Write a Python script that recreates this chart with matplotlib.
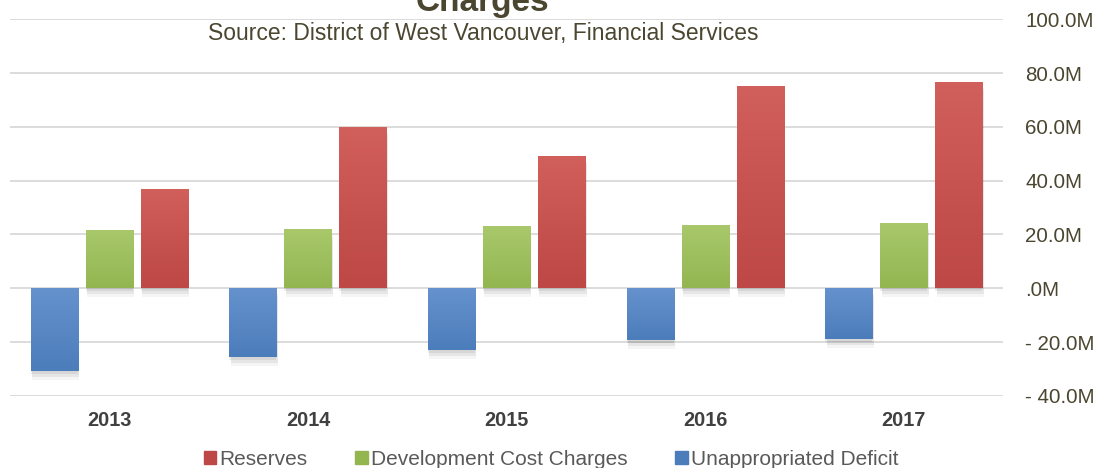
import matplotlib.pyplot as plt
import matplotlib.patheffects as pe
from matplotlib.patches import Patch
from matplotlib.colors import LinearSegmentedColormap
import numpy as np

plt.rcParams['font.family'] = ['Liberation Sans', 'DejaVu Sans']

# data (millions)
years = ['2013', '2014', '2015', '2016', '2017']
deficit = [-30.9, -25.7, -23.0, -19.3, -19.0]
dcc = [21.6, 21.9, 23.0, 23.4, 24.2]
reserves = [36.8, 59.9, 49.1, 75.1, 76.6]
yticks = [-40, -20, 0, 20, 40, 60, 80, 100]
ytick_labels = ['- 40.0M', '- 20.0M', '.0M', '20.0M', '40.0M', '60.0M', '80.0M', '100.0M']

# (top colour, bottom colour)
blue = ('#6592cd', '#4c7dbb')
green = ('#a8c86b', '#94b651')
red = ('#d15f5c', '#bd4845')
text_col = '#4a4630'

fig = plt.figure(figsize=(11, 4.68), dpi=100)
ax = fig.add_axes([0.009, 0.154, 0.903, 0.805])

x = np.arange(len(years))
w = 0.237
step = 0.277
shadow = [pe.SimplePatchShadow(offset=(0, -2), shadow_rgbFace='#000000', alpha=0.07),
          pe.SimplePatchShadow(offset=(1, -4), shadow_rgbFace='#000000', alpha=0.06),
          pe.SimplePatchShadow(offset=(1, -6), shadow_rgbFace='#000000', alpha=0.04),
          pe.Normal()]
grad = np.linspace(0, 1, 50).reshape(-1, 1)

for vals, off, cols in [(deficit, -step, blue), (dcc, 0, green), (reserves, step, red)]:
    cmap = LinearSegmentedColormap.from_list('g', [cols[0], cols[1]])
    bars = ax.bar(x + off, vals, w, color=cols[1], zorder=3)
    for b in bars:
        b.set_path_effects(shadow)
        x0 = b.get_x()
        y0, y1 = sorted([b.get_y(), b.get_y() + b.get_height()])
        im = ax.imshow(grad, cmap=cmap, extent=(x0, x0 + w, y0, y1),
                       aspect='auto', zorder=4, origin='upper')
        im.set_clip_path(b)

ax.set_ylim(-40, 100)
ax.set_xlim(-0.5, len(years) - 0.5)
ax.set_yticks(yticks)
ax.set_yticklabels(ytick_labels)
ax.yaxis.tick_right()
ax.tick_params(axis='y', length=0, pad=16, labelsize=14.8, labelcolor=text_col)
ax.set_xticks(x)
ax.set_xticklabels(years, fontweight='bold')
ax.tick_params(axis='x', length=0, pad=11, labelsize=14.3, labelcolor='#404040')
ax.grid(axis='y', color='#d9d9d9', linewidth=1.3, zorder=0)
for s in ax.spines.values():
    s.set_visible(False)

fig.text(0.439, 0.976, 'Charges', ha='center', va='baseline', fontsize=24,
         fontweight='bold', color=text_col)
fig.text(0.439, 0.929, 'Source: District of West Vancouver, Financial Services',
         ha='center', va='center', fontsize=16.5, color=text_col)

handles = [Patch(color=red[1], label='Reserves'),
           Patch(color=green[1], label='Development Cost Charges'),
           Patch(color=blue[1], label='Unappropriated Deficit')]
fig.legend(handles=handles, loc='lower center', bbox_to_anchor=(0.501, -0.042), ncol=3,
           frameon=False, fontsize=15, handlelength=0.6, handleheight=0.6,
           handletextpad=0.15, columnspacing=2.3, labelcolor='#595959')

fig.savefig('out.png', dpi=100)
